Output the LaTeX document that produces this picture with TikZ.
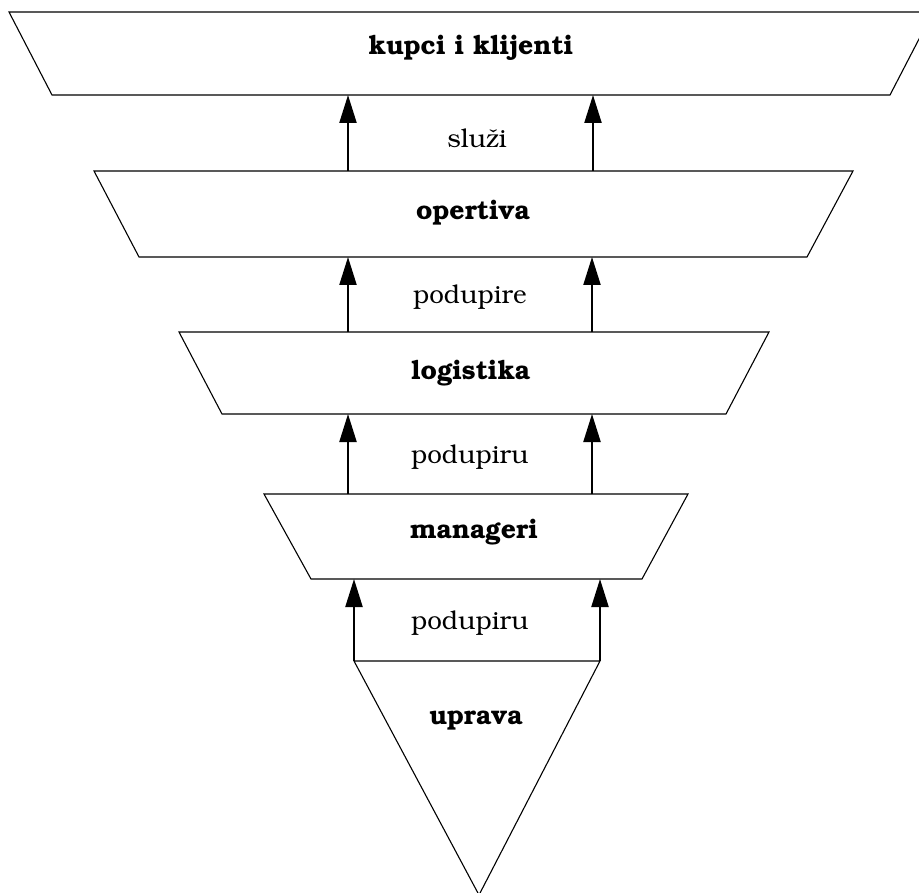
\documentclass[tikz,border=0pt]{standalone}
\usepackage[T1]{fontenc}
\usepackage{bookman}
\usetikzlibrary{arrows.meta}
\tikzset{
  layer/.style={draw=black, line width=1.1pt, line join=miter},
  up/.style={draw=black, line width=2.2pt, -{Triangle[length=28pt,width=17pt]}},
  title/.style={font=\fontsize{26.5}{30}\selectfont\bfseries, inner sep=0pt},
  verb/.style={font=\fontsize{26}{30}\selectfont, inner sep=0pt}
}
\begin{document}
\begin{tikzpicture}[x=1pt,y=-1pt]
\useasboundingbox (0,0) rectangle (919,893);
\clip (0,0) rectangle (919,893);
% layers
\draw[layer] (9,12) -- (933,12) -- (890,95) -- (52,95) -- cycle;
\draw[layer] (94,171) -- (853,171) -- (807,257) -- (139,257) -- cycle;
\draw[layer] (179,332) -- (769,332) -- (726,414) -- (222,414) -- cycle;
\draw[layer] (264,494) -- (688,494) -- (642,579) -- (311,579) -- cycle;
\draw[layer] (354,661) -- (600,661) -- (479,895) -- cycle;
% titles
\node[title] (kupci) at (471,48) {kupci i klijenti};
\node[title] (opertiva) at (473,213) {opertiva};
\node[title] (logistika) at (471,373) {logistika};
\node[title] (manageri) at (474,532) {manageri};
\node[title] (uprava) at (476,720) {uprava};
% verbs
\node[verb] (v1) at (477,138) {slu\v{z}i};
\node[verb] (v2) at (470,297) {podupire};
\node[verb] (v3) at (470,457) {podupiru};
\node[verb] (v4) at (470,623) {podupiru};
% arrow ends
\coordinate (a1s) at (348,171); \coordinate (a1e) at (348,95);
\coordinate (b1s) at (593,171); \coordinate (b1e) at (593,95);
\coordinate (a2s) at (348,332); \coordinate (a2e) at (348,257);
\coordinate (b2s) at (592,332); \coordinate (b2e) at (592,257);
\coordinate (a3s) at (348,494); \coordinate (a3e) at (348,414);
\coordinate (b3s) at (592,494); \coordinate (b3e) at (592,414);
\coordinate (a4s) at (354,661); \coordinate (a4e) at (354,579);
\coordinate (b4s) at (600,661); \coordinate (b4e) at (600,579);
\draw[up] (a1s) -- (a1e);
\draw[up] (b1s) -- (b1e);
\draw[up] (a2s) -- (a2e);
\draw[up] (b2s) -- (b2e);
\draw[up] (a3s) -- (a3e);
\draw[up] (b3s) -- (b3e);
\draw[up] (a4s) -- (a4e);
\draw[up] (b4s) -- (b4e);
\end{tikzpicture}
\end{document}
